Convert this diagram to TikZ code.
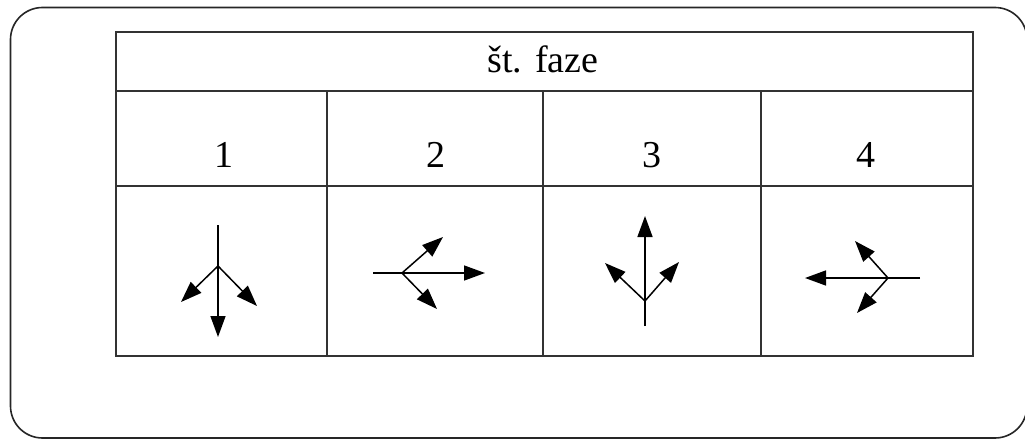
\documentclass[tikz,border=0pt]{standalone}
\usepackage{fontspec}
\setmainfont{Liberation Serif}
\usetikzlibrary{arrows.meta}
\begin{document}
\begin{tikzpicture}[x=1pt,y=-1pt,
  frame/.style={line width=1.6pt,draw=black!85},
  grid/.style={line width=1.6pt,draw=black!80},
  lbl/.style={anchor=base,inner sep=0pt,font=\fontsize{38}{41}\selectfont},
  vec/.style={line width=1.5pt,-{Triangle[length=21pt,width=15pt]}}]
\useasboundingbox (0,0) rectangle (1025,441);
\draw[frame,rounded corners=32pt] (10.5,7.5) rectangle (1027,438);
% table
\draw[grid] (116,32) rectangle (973,356);
\draw[grid] (116,91) -- (973,91);
\draw[grid] (116,186) -- (973,186);
\draw[grid] (327,91) -- (327,356);
\draw[grid] (543,91) -- (543,356);
\draw[grid] (761,91) -- (761,356);
% labels
\node[lbl] (hdr) at (543,73) {št. faze};
\node[lbl] (n1) at (224,167) {1};
\node[lbl] (n2) at (436,167) {2};
\node[lbl] (n3) at (652,167) {3};
\node[lbl] (n4) at (866,167) {4};
% phase 1
\coordinate (a1s) at (218,225);
\coordinate (a1b) at (218,266);
\coordinate (a1t) at (218,337);
\coordinate (a1l) at (181,302);
\coordinate (a1r) at (257,306);
\draw[vec] (a1s) -- (a1t);
\draw[vec] (a1b) -- (a1l);
\draw[vec] (a1b) -- (a1r);
% phase 2
\coordinate (a2s) at (373,273);
\coordinate (a2b) at (402,273);
\coordinate (a2t) at (485,273);
\coordinate (a2u) at (443,237);
\coordinate (a2d) at (437,309);
\draw[vec] (a2s) -- (a2t);
\draw[vec] (a2b) -- (a2u);
\draw[vec] (a2b) -- (a2d);
% phase 3
\coordinate (a3s) at (645,326);
\coordinate (a3b) at (645,301);
\coordinate (a3t) at (645,216);
\coordinate (a3l) at (605,263);
\coordinate (a3r) at (679,262);
\draw[vec] (a3s) -- (a3t);
\draw[vec] (a3b) -- (a3l);
\draw[vec] (a3b) -- (a3r);
% phase 4
\coordinate (a4s) at (920,278);
\coordinate (a4b) at (888,278);
\coordinate (a4t) at (805,278);
\coordinate (a4u) at (855,241);
\coordinate (a4d) at (857,313);
\draw[vec] (a4s) -- (a4t);
\draw[vec] (a4b) -- (a4u);
\draw[vec] (a4b) -- (a4d);
\end{tikzpicture}
\end{document}
